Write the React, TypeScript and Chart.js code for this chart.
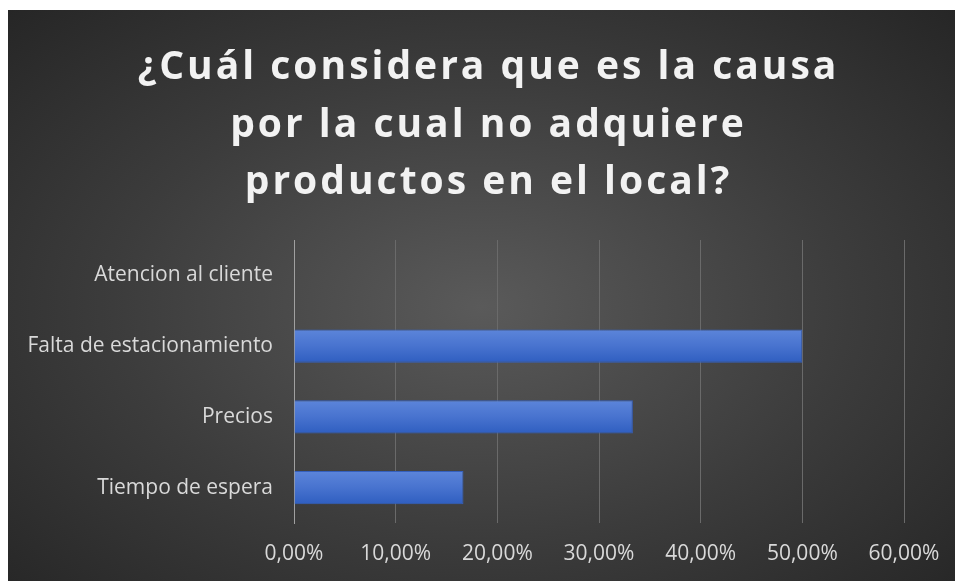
import React, { useEffect, useRef } from "react";
import { Chart, registerables } from "chart.js";

Chart.register(...registerables);

const titleLines = [
  "¿Cuál considera que es la causa",
  "por la cual no adquiere",
  "productos en el local?",
];
const categories = [
  "Atencion al cliente",
  "Falta de estacionamiento",
  "Precios",
  "Tiempo de espera",
];
const percentages = [0, 50, 33.33, 16.67];
const xTicks = [0, 10, 20, 30, 40, 50, 60];

const BAR_PCT = 0.47;

const titlePlugin = {
  id: "spacedTitle",
  afterDraw(chart: any) {
    const ctx = chart.ctx as CanvasRenderingContext2D;
    ctx.save();
    ctx.font = "bold 39px 'Open Sans', sans-serif";
    (ctx as any).letterSpacing = "3px";
    ctx.fillStyle = "#f2f2f2";
    ctx.textAlign = "center";
    ctx.textBaseline = "middle";
    const cx = chart.width / 2 + 7;
    const ys = [58, 116, 173];
    titleLines.forEach((line, i) => ctx.fillText(line, cx, ys[i]));
    ctx.restore();
  },
};

function barFill(c: any) {
  const chart = c.chart;
  const y = chart.scales && chart.scales.y;
  if (!y || !chart.chartArea) return "#4a74d0";
  const cy = y.getPixelForValue(c.dataIndex);
  const h = (y.height / categories.length) * BAR_PCT;
  const g = chart.ctx.createLinearGradient(0, cy - h / 2, 0, cy + h / 2);
  g.addColorStop(0, "#5c85da");
  g.addColorStop(0.5, "#4873cf");
  g.addColorStop(1, "#2f5ec0");
  return g;
}

export default function App() {
  const ref = useRef<HTMLCanvasElement | null>(null);
  useEffect(() => {
    if (!ref.current) return;
    const chart = new Chart(ref.current, {
      type: "bar",
      data: {
        labels: categories,
        datasets: [
          {
            data: percentages,
            backgroundColor: barFill,
            borderColor: "#3560bd",
            borderWidth: 1,
            barPercentage: BAR_PCT,
            categoryPercentage: 1,
          },
        ],
      },
      plugins: [titlePlugin],
      options: {
        indexAxis: "y",
        responsive: true,
        maintainAspectRatio: false,
        animation: false,
        layout: { padding: { top: 230, right: 51, bottom: 0, left: 0 } },
        plugins: {
          legend: { display: false },
          tooltip: { enabled: false },
          title: { display: false },
        },
        scales: {
          x: {
            min: 0,
            max: 60,
            afterBuildTicks: (scale: any) => {
              scale.ticks = xTicks.map((v) => ({ value: v }));
            },
            afterFit: (scale: any) => {
              scale.height = 58;
              scale.paddingLeft = 0;
              scale.paddingRight = 0;
            },
            grid: { color: "#6a6a6a", lineWidth: 1, drawTicks: false },
            border: { display: false },
            ticks: {
              color: "#d9d9d9",
              padding: 18,
              font: { family: "'Open Sans', sans-serif", size: 21 },
              callback: (v: any) => Number(v).toFixed(2).replace(".", ",") + "%",
            },
          },
          y: {
            afterFit: (scale: any) => {
              scale.width = 286;
            },
            grid: { display: false, drawTicks: false },
            border: { display: true, color: "#a0a0a0", width: 1 },
            ticks: {
              color: "#d9d9d9",
              padding: 21,
              font: { family: "'Open Sans', sans-serif", size: 21 },
            },
          },
        },
      },
    });
    return () => chart.destroy();
  }, []);
  return (
    <div
      style={{
        position: "fixed",
        left: 8,
        top: 10,
        right: 0,
        bottom: 0,
        background: "radial-gradient(ellipse at 50% 52%, #5a5a5a 0%, #3c3c3c 55%, #262626 100%)",
      }}
    >
      <canvas ref={ref} />
    </div>
  );
}
